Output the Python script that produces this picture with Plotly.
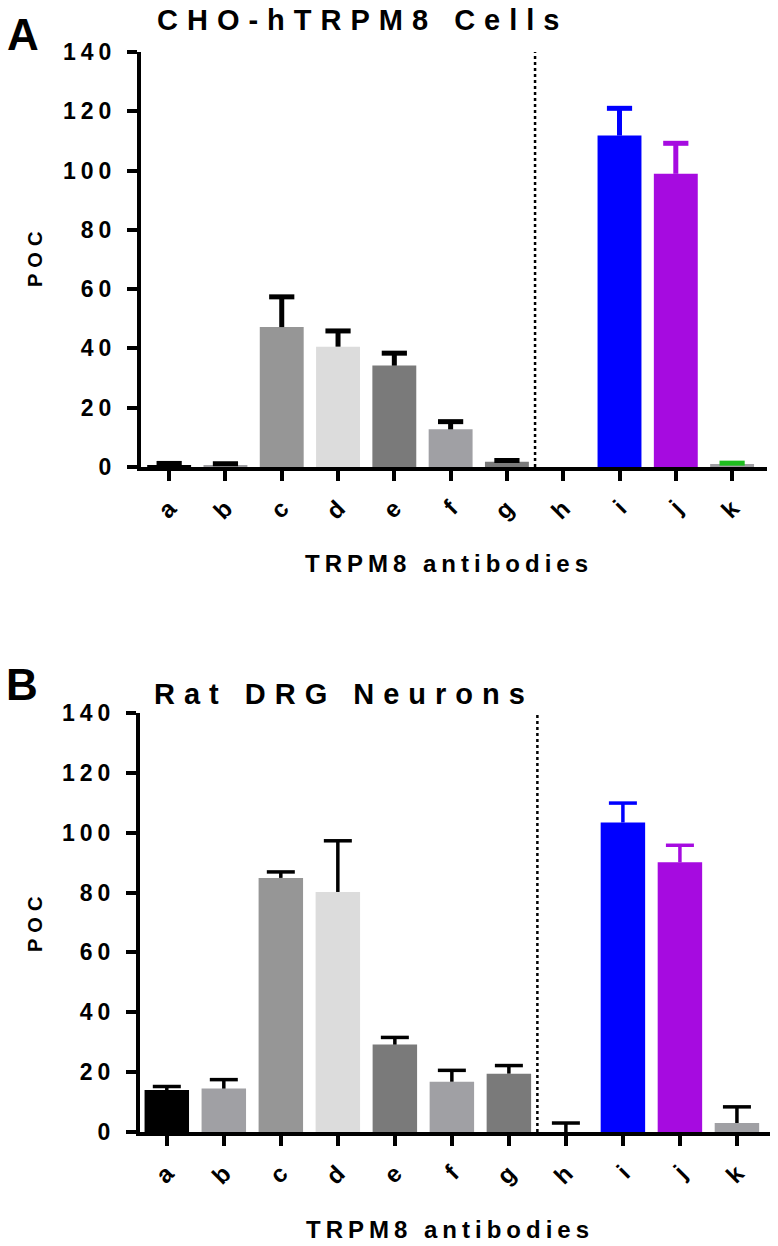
import plotly.graph_objects as go

# ---------------- data ----------------
categories = ["a", "b", "c", "d", "e", "f", "g", "h", "i", "j", "k"]

cho_values = [0.7, 0.5, 47.2, 40.6, 34.2, 12.7, 1.8, 0.0, 111.8, 98.9, 1.0]
cho_errors = [0.5, 0.6, 10.2, 5.3, 4.2, 2.6, 0.4, 0.0, 9.2, 10.3, 0.3]

drg_values = [14.0, 14.5, 84.9, 80.2, 29.2, 16.8, 19.5, 0.0, 103.4, 90.1, 3.0]
drg_errors = [1.2, 3.0, 2.0, 17.1, 2.4, 3.8, 2.7, 3.0, 6.5, 5.7, 5.4]

bar_colors = ["#000000", "#a0a0a4", "#969696", "#dcdcdc", "#7a7a7a", "#a0a0a4",
              "#7a7a7a", "#a0a0a4", "#0000ff", "#a60be0", "#a0a0a4"]
cho_err_colors = ["#000000"] * 8 + ["#0000ff", "#a60be0", "#1fbf1f"]
drg_err_colors = ["#000000"] * 8 + ["#0000ff", "#a60be0", "#000000"]

y_ticks = [0, 20, 40, 60, 80, 100, 120, 140]

panel_titles = ["CHO-hTRPM8 Cells", "Rat DRG Neurons"]
panel_letters = ["A", "B"]
x_title = "TRPM8 antibodies"
y_title = "POC"

# ---------------- layout helpers ----------------
W, H = 778, 1246
FONT = "Liberation Sans, Arial, sans-serif"


def fx(px):
    return px / W


def fy(py):
    return 1 - py / H


def spaced(text, sp):
    return f'<span style="letter-spacing:{sp}px">{text}</span>'


fig = go.Figure()

panels = [
    dict(values=cho_values, errors=cho_errors, ecolors=cho_err_colors,
         xa="x", ya="y", ethick=5, ewidth=9),
    dict(values=drg_values, errors=drg_errors, ecolors=drg_err_colors,
         xa="x2", ya="y2", ethick=3.5, ewidth=10),
]

for p in panels:
    for cat, val, err, col, ecol in zip(categories, p["values"], p["errors"],
                                        bar_colors, p["ecolors"]):
        # bar with error stem (no caps)
        fig.add_trace(go.Bar(
            x=[cat], y=[val], xaxis=p["xa"], yaxis=p["ya"],
            marker=dict(color=col, line=dict(width=0)),
            width=0.78,
            error_y=dict(type="data", symmetric=False, array=[err], arrayminus=[0],
                         color=ecol, thickness=p["ethick"], width=0,
                         visible=err > 0),
            showlegend=False, hoverinfo="skip",
        ))
        # upper cap only (T-shaped error bar)
        if err > 0:
            fig.add_trace(go.Scatter(
                x=[cat], y=[val + err], xaxis=p["xa"], yaxis=p["ya"],
                mode="markers",
                marker=dict(symbol="line-ew", size=2 * p["ewidth"],
                            line=dict(width=p["ethick"], color=ecol)),
                showlegend=False, hoverinfo="skip", cliponaxis=False,
            ))

axis_common = dict(
    showline=True, linewidth=4, linecolor="black", ticks="outside",
    ticklen=10, tickwidth=4, tickcolor="black", showgrid=False, zeroline=False,
    automargin=False,
)

ytickfont = dict(family=FONT, size=23, color="black", weight="bold")
xtickfont = dict(family=FONT, size=24, color="black", weight="bold")

fig.update_layout(
    width=W, height=H,
    margin=dict(l=0, r=0, t=0, b=0, autoexpand=False),
    paper_bgcolor="white", plot_bgcolor="white",
    xaxis=dict(domain=[fx(141), fx(767)], anchor="y", range=[-0.5, 10.62],
               type="category", tickangle=-45, tickfont=xtickfont,
               ticklabelstandoff=4, **axis_common),
    yaxis=dict(domain=[fy(467), fy(52)], anchor="x", range=[0, 140],
               tickvals=y_ticks, ticktext=[spaced(str(t), 5) for t in y_ticks],
               tickfont=ytickfont, ticklabelstandoff=6, **axis_common),
    xaxis2=dict(domain=[fx(140), fx(770)], anchor="y2", range=[-0.47, 10.58],
                type="category", tickangle=-45, tickfont=xtickfont,
                ticklabelstandoff=4, **axis_common),
    yaxis2=dict(domain=[fy(1132), fy(713)], anchor="x2", range=[0, 140],
                tickvals=y_ticks, ticktext=[spaced(str(t), 5) for t in y_ticks],
                tickfont=ytickfont, ticklabelstandoff=6, **axis_common),
)

# dotted separators between g and h
for xa, ya in [("x", "y"), ("x2", "y2")]:
    fig.add_shape(type="line", xref=xa, yref=ya, x0=6.5, x1=6.5, y0=0, y1=140,
                  line=dict(color="black", width=2.5, dash="dot"))


def bold(s):
    return dict(family=FONT, size=s, color="black", weight="bold")


# titles, panel letters, axis titles (window pixel positions)
title_pos = [(155, 20), (152, 694)]
letter_pos = [(23, 34), (22, 684)]
xtitle_pos = [(449, 563), (450, 1229)]
ytitle_pos = [(35, 257), (35, 922)]

for i in range(2):
    fig.add_annotation(text=spaced(panel_titles[i], 9), xref="paper", yref="paper",
                       x=fx(title_pos[i][0]), y=fy(title_pos[i][1]),
                       xanchor="left", yanchor="middle", showarrow=False,
                       font=bold(29))
    fig.add_annotation(text=panel_letters[i], xref="paper", yref="paper",
                       x=fx(letter_pos[i][0]), y=fy(letter_pos[i][1]),
                       xanchor="center", yanchor="middle", showarrow=False,
                       font=bold(44))
    fig.add_annotation(text=spaced(x_title, 5), xref="paper", yref="paper",
                       x=fx(xtitle_pos[i][0]), y=fy(xtitle_pos[i][1]),
                       xanchor="center", yanchor="middle", showarrow=False,
                       font=bold(24))
    fig.add_annotation(text=spaced(y_title, 6), xref="paper", yref="paper",
                       x=fx(ytitle_pos[i][0]), y=fy(ytitle_pos[i][1]),
                       xanchor="center", yanchor="middle", showarrow=False,
                       textangle=-90, font=bold(20))

# remove the default 8px page margin so the figure fills the window exactly
fig.write_html("out.html", config={"displayModeBar": False},
               post_script="document.body.style.margin='0';")
